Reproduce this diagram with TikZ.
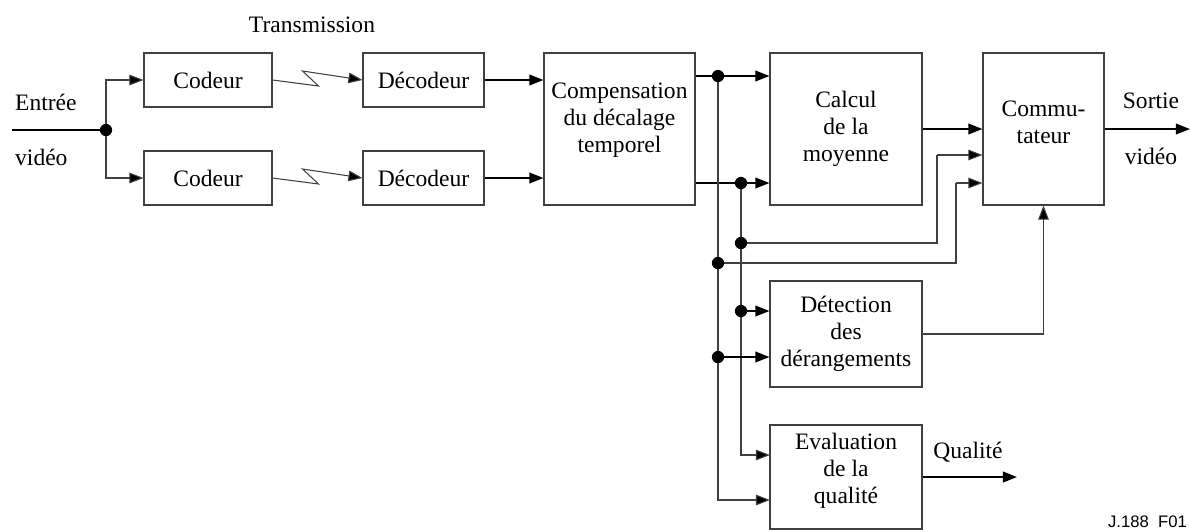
\documentclass[tikz,border=0pt]{standalone}
\usepackage{fontspec}
\setmainfont{Liberation Serif}
\setsansfont{Liberation Sans}
\usepackage{tikz}
\usetikzlibrary{arrows.meta}
\usepackage{xcolor}

\begin{document}
\begin{tikzpicture}[x=0.02cm, y=-0.02cm,
		every node/.style={font=\rmfamily\fontsize{13.4}{15.3}\selectfont},
		box/.style={draw=black!75, line width=0.6pt, inner sep=0pt, align=center},
		main/.style={line width=1.1pt, -{Triangle[length=8pt,width=6pt]}},
		bus/.style={draw=black!75, line width=0.6pt},
		busarrow/.style={bus, -{Triangle[length=8pt,width=6pt,fill=black]}},
		dot/.style={circle, fill=black, inner sep=0pt, minimum size=7pt}]
		\useasboundingbox (0,0) rectangle (1190,529);
		
		% ===== BOXES =====
		\node[box, minimum width=2.56cm, minimum height=1.08cm] (cod1) at (208, 80) {Codeur};
		\node[box, minimum width=2.56cm, minimum height=1.08cm] (cod2) at (208, 178) {Codeur};
		\node[box, minimum width=2.42cm, minimum height=1.08cm] (dec1) at (423.5, 80) {Décodeur};
		\node[box, minimum width=2.42cm, minimum height=1.08cm] (dec2) at (423.5, 178) {Décodeur};
		\node[box, minimum width=3.02cm, minimum height=3.04cm] (comp) at (619.5, 129) {};
		\node[align=center] (comptxt) at (619.5, 120) {Compensation\\du décalage\\temporel};
		\node[box, minimum width=3.04cm, minimum height=3.04cm] (calc) at (846, 129) {Calcul\\de la\\moyenne};
		\node[box, minimum width=2.42cm, minimum height=3.04cm] (com) at (1043.5, 129) {};
		\node[align=center] (comtxt) at (1043.5, 122) {Commu-\\tateur};
		\node[box, minimum width=3.04cm, minimum height=2.12cm] (det) at (846, 334) {Détection\\des\\dérangements};
		\node[box, minimum width=3.04cm, minimum height=2.08cm] (eval) at (846, 477) {};
		\node[align=center] (evaltxt) at (846, 471) {Evaluation\\de la\\qualité};
		
		% ===== LABELS =====
		\node (trans) at (312, 25) {Transmission};
		\node[anchor=west] (entree) at (9, 102) {Entrée};
		\node[anchor=west] (video1) at (9, 157) {vidéo};
		\node (sortie) at (1151, 101) {Sortie};
		\node (video2) at (1151, 156) {vidéo};
		\node (qual) at (968, 452) {Qualité};
		\node[anchor=east, inner sep=1pt, font=\sffamily\fontsize{9.5}{11}\selectfont] (ref) at (1189, 522) {J.188\ \ F01};
		
		% ===== JUNCTIONS =====
		\coordinate (in) at (12, 130);
		\coordinate (out) at (1190, 129);
		\coordinate (qout) at (1017, 477);
		\coordinate (sp) at (106, 130);
		\coordinate (j1) at (718, 76);
		\coordinate (j2) at (741, 183);
		\coordinate (k1) at (741, 243);
		\coordinate (k2) at (718, 263);
		\coordinate (k3) at (741, 311);
		\coordinate (k4) at (718, 357);
		\coordinate (c1) at (937, 155);
		\coordinate (c2) at (956, 183);
		\coordinate (e1) at (770, 455);
		\coordinate (e2) at (770, 500);
		
		% ===== INPUT AND TRANSMISSION =====
		\draw[line width=1.1pt] (in) -- (sp);
		\draw[busarrow] (sp) |- (cod1.west);
		\draw[busarrow] (sp) |- (cod2.west);
		\draw[busarrow] (cod1.east) -- ++(46, 6) -- ++(-16, -15) -- (dec1.west);
		\draw[busarrow] (cod2.east) -- ++(46, 6) -- ++(-16, -15) -- (dec2.west);
		\draw[main] (dec1.east) -- (dec1.east -| comp.west);
		\draw[main] (dec2.east) -- (dec2.east -| comp.west);
		
		% ===== COMPENSATION OUTPUTS =====
		\draw[main] (j1 -| comp.east) -- (j1 -| calc.west);
		\draw[main] (j2 -| comp.east) -- (j2 -| calc.west);
		\draw[busarrow] (j1) |- (e2);
		\draw[busarrow] (j2) |- (e1);
		\draw[bus] (k1) -| (c1);
		\draw[busarrow] (c1) -- (c1 -| com.west);
		\draw[bus] (k2) -| (c2);
		\draw[busarrow] (c2) -- (c2 -| com.west);
		\draw[main] (k3) -- (k3 -| det.west);
		\draw[main] (k4) -- (k4 -| det.west);
		
		% ===== OUTPUTS =====
		\draw[main] (calc.east) -- (com.west);
		\draw[main] (com.east) -- (out);
		\draw[busarrow] (det.east) -| (com.south);
		\draw[main] (eval.east) -- (qout);
		
		% ===== DOTS =====
		\foreach \j in {sp, j1, j2, k1, k2, k3, k4}
			\node[dot] (\j dot) at (\j) {};
		
	\end{tikzpicture}
\end{document}
